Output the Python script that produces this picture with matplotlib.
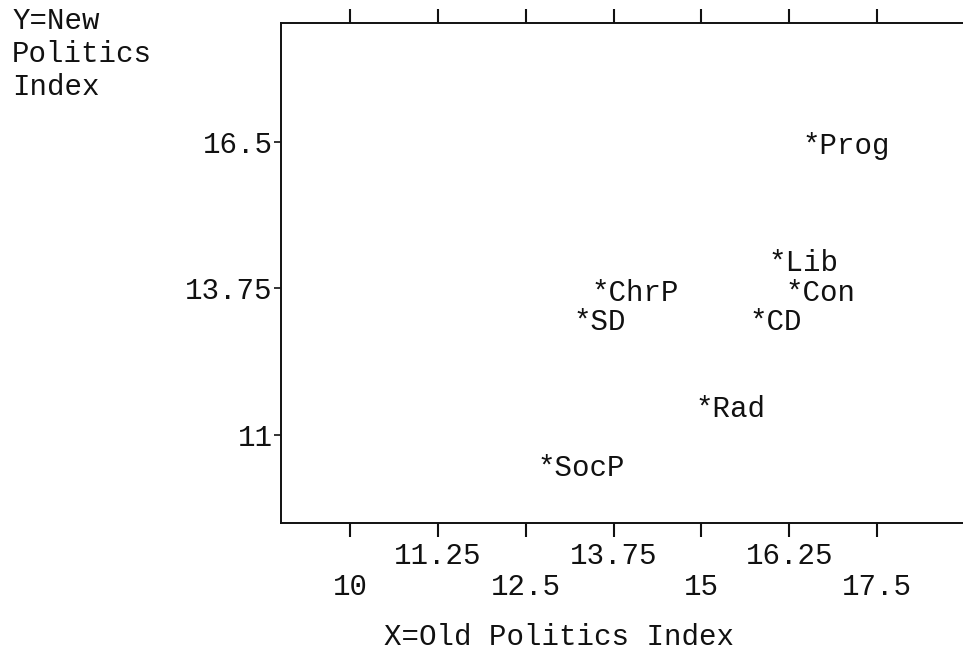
import matplotlib
matplotlib.use("Agg")
import matplotlib.pyplot as plt

plt.rcParams['font.family'] = ['Liberation Mono', 'DejaVu Sans Mono']

# party positions (asterisk centres)
parties = ["Prog", "Lib", "ChrP", "Con", "SD", "CD", "Rad", "SocP"]
old_politics = [16.52, 16.03, 13.52, 16.28, 13.26, 15.77, 15.00, 12.75]
new_politics = [16.52, 14.33, 13.77, 13.77, 13.22, 13.22, 11.60, 10.49]

xticks = [10, 11.25, 12.5, 13.75, 15, 16.25, 17.5]
xtick_labels = ["10", "11.25", "12.5", "13.75", "15", "16.25", "17.5"]
yticks = [11, 13.75, 16.5]
ytick_labels = ["11", "13.75", "16.5"]

fs = 21

fig = plt.figure(figsize=(9.63, 6.55), dpi=100)
ax = fig.add_axes([281 / 963, 132 / 655, 684 / 963, 500 / 655])

for name, x, y in zip(parties, old_politics, new_politics):
    ax.annotate("*" + name, (x, y), xytext=(-4, -4), textcoords="offset points",
                ha="left", va="center", fontsize=fs, color="#111111")

ax.set_xlim(9.02, 18.75)
ax.set_ylim(9.35, 18.73)

ax.set_xticks(xticks)
ax.set_xticklabels([("\n" if i % 2 == 0 else "") + lab
                    for i, lab in enumerate(xtick_labels)],
                   fontsize=fs, linespacing=1.1)
ax.set_yticks(yticks)
ax.set_yticklabels(ytick_labels, fontsize=fs)

ax.tick_params(axis="x", direction="out", length=10, width=1.5, top=True,
               pad=4, colors="#111111")
ax.tick_params(axis="y", direction="out", length=5, width=1.2, pad=1,
               colors="#111111")
for side in ["left", "top", "bottom"]:
    ax.spines[side].set_linewidth(1.4)
    ax.spines[side].set_color("#111111")
ax.spines["right"].set_visible(False)

ax.set_xlabel("X=Old Politics Index", fontsize=fs, color="#111111")
ax.xaxis.set_label_coords((559 - 281) / 684, -0.2)

fig.text(12 / 963, 1 - 7 / 655, "Y=New\nPolitics\nIndex", ha="left", va="top",
         fontsize=fs, linespacing=1.22, color="#111111")

fig.savefig("out.png", dpi=100)
